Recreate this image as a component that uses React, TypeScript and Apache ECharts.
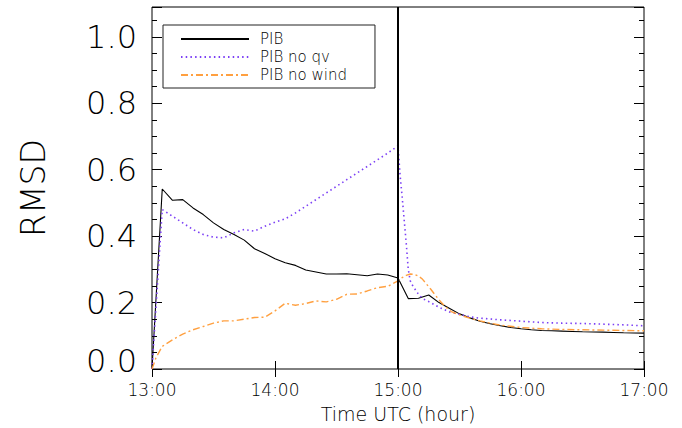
import React, { useEffect, useRef } from 'react';
import * as echarts from 'echarts';

// Time axis: minutes after 13:00 UTC
const xTickLabels = ['13:00', '14:00', '15:00', '16:00', '17:00'];
const yTickLabels = ['0.0', '0.2', '0.4', '0.6', '0.8', '1.0'];
const splitTime = 120; // 15:00

const pibTimes = [0, 5, 10, 15, 20, 25, 30, 35, 40, 45, 50, 55, 60, 65, 70, 75, 80, 85, 90, 95, 100, 105, 110, 115, 120,
  125, 130, 135, 140, 145, 150, 155, 160, 165, 170, 175, 180, 185, 190, 195, 200, 205, 210, 215, 220, 225, 230, 235, 240];
const pibValues = [0, 0.542, 0.508, 0.510, 0.485, 0.465, 0.440, 0.420, 0.405, 0.388, 0.362, 0.348, 0.332, 0.320, 0.312, 0.298, 0.292, 0.286, 0.286, 0.287, 0.284, 0.281, 0.286, 0.283, 0.274,
  0.212, 0.213, 0.223, 0.200, 0.183, 0.166, 0.154, 0.144, 0.136, 0.130, 0.125, 0.121, 0.118, 0.116, 0.115, 0.114, 0.113, 0.112, 0.1115, 0.111, 0.110, 0.109, 0.1085, 0.108];

const noQvTimes = [0, 5, 10, 15, 20, 25, 30, 35, 40, 45, 50, 55, 60, 65, 70, 75, 80, 85, 90, 95, 100, 105, 110, 115, 120,
  121, 122, 123, 124, 125, 126, 127, 128, 130, 132, 135, 140, 145, 150, 155, 160, 170, 180, 190, 200, 210, 220, 230, 240];
const noQvValues = [0, 0.480, 0.460, 0.440, 0.420, 0.405, 0.397, 0.395, 0.410, 0.420, 0.415, 0.430, 0.442, 0.452, 0.470, 0.490, 0.510, 0.530, 0.550, 0.570, 0.590, 0.610, 0.630, 0.650, 0.672,
  0.585, 0.520, 0.450, 0.380, 0.300, 0.265, 0.253, 0.243, 0.225, 0.212, 0.203, 0.186, 0.172, 0.165, 0.157, 0.153, 0.148, 0.144, 0.140, 0.138, 0.137, 0.135, 0.133, 0.130];

const noWindTimes = [0, 2, 5, 10, 15, 20, 25, 30, 35, 40, 45, 50, 55, 60, 65, 70, 75, 80, 85, 90, 95, 100, 105, 110, 115, 120,
  122, 124, 126, 128, 130, 132, 134, 136, 138, 140, 143, 146, 150, 155, 160, 165, 170, 180, 190, 200, 210, 220, 230, 240];
const noWindValues = [0, 0.035, 0.068, 0.088, 0.105, 0.118, 0.128, 0.138, 0.145, 0.145, 0.150, 0.155, 0.156, 0.175, 0.198, 0.192, 0.197, 0.205, 0.202, 0.210, 0.225, 0.226, 0.235, 0.245, 0.249, 0.265,
  0.275, 0.282, 0.286, 0.285, 0.280, 0.270, 0.255, 0.240, 0.224, 0.208, 0.188, 0.173, 0.163, 0.153, 0.145, 0.138, 0.132, 0.125, 0.121, 0.119, 0.118, 0.117, 0.116, 0.115];

const FONT = 'DejaVu Sans';

const pairs = (t: number[], v: number[]) => t.map((x, i) => [x, v[i]]);

export default function App() {
  const ref = useRef<HTMLDivElement>(null);
  useEffect(() => {
    if (!ref.current) return;
    const chart = echarts.init(ref.current, undefined, { renderer: 'svg' });
    const yCommon = { type: 'value', min: 0, max: 1.09, splitLine: { show: false }, axisLine: { show: false } };
    const yLabel = (v: number) => {
      const idx = Math.round(v / 0.2);
      if (Math.abs(v - idx * 0.2) > 1e-6 || idx >= yTickLabels.length) return '';
      return idx === 0 ? '{z|' + yTickLabels[0] + '}' : yTickLabels[idx];
    };
    chart.setOption({
      animation: false,
      backgroundColor: '#fff',
      grid: { left: 152, right: 38, top: 7, bottom: 58, show: true, borderColor: '#000', borderWidth: 1 },
      legend: {
        left: 163, top: 25, orient: 'vertical',
        padding: [5, 28, 4, 17], itemGap: 0, itemWidth: 68, itemHeight: 10,
        borderColor: '#222', borderWidth: 1,
        itemStyle: { color: 'transparent', borderWidth: 0 },
        textStyle: { fontFamily: FONT, fontWeight: 200, fontSize: 15, color: '#000', lineHeight: 18, padding: [0, 0, 0, 6] },
        data: ['PIB', 'PIB no qv', 'PIB no wind'],
      },
      xAxis: [
        {
          type: 'value', min: 0, max: 240, interval: 60, position: 'bottom',
          splitLine: { show: false }, axisLine: { show: false },
          axisTick: { inside: true, length: 8, lineStyle: { color: '#000' } },
          axisLabel: { margin: 12, fontFamily: FONT, fontWeight: 200, fontSize: 17, color: '#000', formatter: (v: number) => xTickLabels[Math.round(v / 60)] },
          name: 'Time UTC (hour)', nameLocation: 'middle', nameGap: 35,
          nameTextStyle: { fontFamily: FONT, fontWeight: 200, fontSize: 19, color: '#000' },
        },
        {
          type: 'value', min: 0, max: 240, interval: 60, position: 'top',
          splitLine: { show: false }, axisLine: { show: false },
          axisTick: { inside: true, length: 8, lineStyle: { color: '#000' } },
          axisLabel: { show: false },
        },
      ],
      yAxis: [
        {
          ...yCommon, position: 'left', interval: 0.2,
          axisTick: { inside: true, length: 10, lineStyle: { color: '#000' } },
          axisLabel: {
            margin: 15, fontFamily: FONT, fontWeight: 200, fontSize: 32, color: '#000', formatter: yLabel,
            rich: { z: { fontFamily: FONT, fontWeight: 200, fontSize: 32, color: '#000', padding: [0, 0, 16, 0] } },
          },
          name: 'RMSD', nameLocation: 'middle', nameGap: 102,
          nameTextStyle: { fontFamily: FONT, fontWeight: 200, fontSize: 33, color: '#000' },
        },
        {
          ...yCommon, position: 'left', interval: 0.05,
          axisTick: { inside: true, length: 5, lineStyle: { color: '#000' } },
          axisLabel: { show: false },
        },
        {
          ...yCommon, position: 'right', interval: 0.2,
          axisTick: { inside: true, length: 10, lineStyle: { color: '#000' } },
          axisLabel: { show: false },
        },
        {
          ...yCommon, position: 'right', interval: 0.05,
          axisTick: { inside: true, length: 5, lineStyle: { color: '#000' } },
          axisLabel: { show: false },
        },
      ],
      series: [
        {
          name: 'PIB', type: 'line', data: pairs(pibTimes, pibValues), symbol: 'none', showSymbol: false,
          lineStyle: { color: '#000', width: 1.1, type: 'solid' }, itemStyle: { color: '#000' },
          markLine: {
            silent: true, symbol: 'none', label: { show: false },
            lineStyle: { color: '#000', width: 2, type: 'solid' },
            data: [{ xAxis: splitTime }],
          },
        },
        {
          name: 'PIB no qv', type: 'line', data: pairs(noQvTimes, noQvValues), symbol: 'none', showSymbol: false,
          lineStyle: { color: '#7b3ff5', width: 1.6, type: [1.5, 3.2] }, itemStyle: { color: '#7b3ff5' },
        },
        {
          name: 'PIB no wind', type: 'line', data: pairs(noWindTimes, noWindValues), symbol: 'none', showSymbol: false,
          lineStyle: { color: '#ffa040', width: 1.4, type: [7, 3, 2, 3] }, itemStyle: { color: '#ffa040' },
        },
      ],
    });
    return () => chart.dispose();
  }, []);
  return <div ref={ref} style={{ position: 'absolute', left: 0, top: 0, width: 682, height: 428, background: '#fff' }} />;
}
